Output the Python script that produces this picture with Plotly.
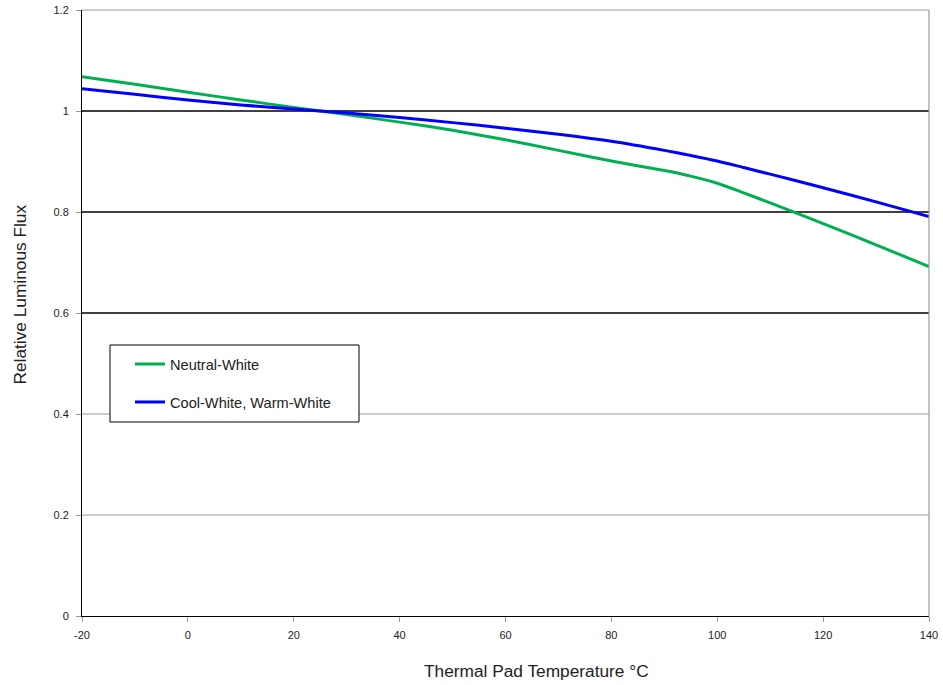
import plotly.graph_objects as go

# Data
temps = [-20, -10, 0, 10, 20, 25, 30, 40, 50, 60, 70, 80, 90, 95, 100, 105, 110, 120, 130, 140]
neutral_white = [1.068, 1.053, 1.037, 1.022, 1.007, 1.000, 0.993, 0.978, 0.962, 0.943,
                 0.922, 0.901, 0.882, 0.871, 0.857, 0.838, 0.818, 0.777, 0.735, 0.692]
cool_warm_white = [1.044, 1.033, 1.022, 1.012, 1.004, 1.000, 0.996, 0.987, 0.977, 0.966,
                   0.954, 0.940, 0.922, 0.912, 0.901, 0.888, 0.875, 0.848, 0.820, 0.791]
series_names = ["Neutral-White", "Cool-White, Warm-White"]
series_colors = ["#00B050", "#0000FF"]
x_ticks = [-20, 0, 20, 40, 60, 80, 100, 120, 140]
x_tick_labels = ["-20", "0", "20", "40", "60", "80", "100", "120", "140"]
y_ticks = [0, 0.2, 0.4, 0.6, 0.8, 1.0, 1.2]
y_tick_labels = ["0", "0.2", "0.4", "0.6", "0.8", "1", "1.2"]
gray_grid = [0.2, 0.4]
black_grid = [0.6, 0.8, 1.0]

FONT = "Liberation Sans, Arial, sans-serif"

W, H = 943, 685
L, R, T, B = 82, 14, 10, 69
PW, PH = W - L - R, H - T - B  # 847 x 606

fig = go.Figure()
for i, (name, vals) in enumerate(zip(series_names, [neutral_white, cool_warm_white])):
    fig.add_trace(go.Scatter(
        x=temps, y=vals, mode="lines", name=name,
        line=dict(color=series_colors[i], width=3, shape="spline", smoothing=0.6),
        legendgroup=f"g{i}",
    ))

shapes = []
for g in gray_grid:
    shapes.append(dict(type="line", xref="paper", x0=0, x1=1, yref="y", y0=g, y1=g,
                       line=dict(color="#999999", width=1), layer="below"))
for g in black_grid:
    shapes.append(dict(type="line", xref="paper", x0=0, x1=1, yref="y", y0=g, y1=g,
                       line=dict(color="black", width=1.3), layer="below"))
# top and right gray borders
shapes.append(dict(type="line", xref="paper", x0=0, x1=1, yref="paper", y0=1, y1=1,
                   line=dict(color="#999999", width=1.2)))
shapes.append(dict(type="line", xref="paper", x0=1, x1=1, yref="paper", y0=0, y1=1,
                   line=dict(color="#999999", width=1.2)))
# legend box
shapes.append(dict(type="rect", xref="paper", yref="paper",
                   x0=(110 - L) / PW, x1=(359 - L) / PW,
                   y0=(616 - 422) / PH, y1=(616 - 345) / PH,
                   line=dict(color="black", width=1), fillcolor="white", layer="below"))

annotations = [
    dict(text="Thermal Pad Temperature °C", xref="paper", yref="paper",
         x=(536 - L) / PW, y=(616 - 671) / PH, xanchor="center", yanchor="middle",
         showarrow=False, font=dict(size=17.3, family=FONT, color="#222222")),
    dict(text="Relative Luminous Flux", xref="paper", yref="paper",
         x=(19.5 - L) / PW, y=(616 - 295) / PH, xanchor="center", yanchor="middle",
         textangle=-90, showarrow=False, font=dict(size=17.3, family=FONT, color="#222222")),
]

fig.update_layout(
    width=W, height=H,
    margin=dict(l=L, r=R, t=T, b=B),
    paper_bgcolor="white", plot_bgcolor="white",
    font=dict(family=FONT, color="#222222", size=11),
    showlegend=True,
    legend=dict(x=(130 - L) / PW, y=(616 - 348) / PH, xanchor="left", yanchor="top",
                bgcolor="rgba(0,0,0,0)", borderwidth=0,
                font=dict(family=FONT, size=14.6, color="#222222"),
                tracegroupgap=16),
    shapes=shapes,
    annotations=annotations,
    xaxis=dict(
        range=[-20, 140], tickvals=x_ticks, ticktext=x_tick_labels, ticks="outside",
        ticklen=5, tickcolor="#999999", ticklabelstandoff=4, ticklabeloverflow="allow",
        showgrid=False, zeroline=False, showline=True, linecolor="black", linewidth=1,
        automargin=False, tickfont=dict(size=11),
    ),
    yaxis=dict(
        range=[0, 1.2], tickvals=y_ticks, ticktext=y_tick_labels, ticks="outside", ticklen=5,
        tickcolor="#999999", ticklabelstandoff=5, ticklabeloverflow="allow", showgrid=False,
        zeroline=False, showline=True, linecolor="black", linewidth=1,
        automargin=False, tickfont=dict(size=11),
    ),
)

fig.write_html(
    "out.html",
    config={"displayModeBar": False},
    post_script="document.body.style.margin='0';document.body.style.overflow='hidden';",
)
